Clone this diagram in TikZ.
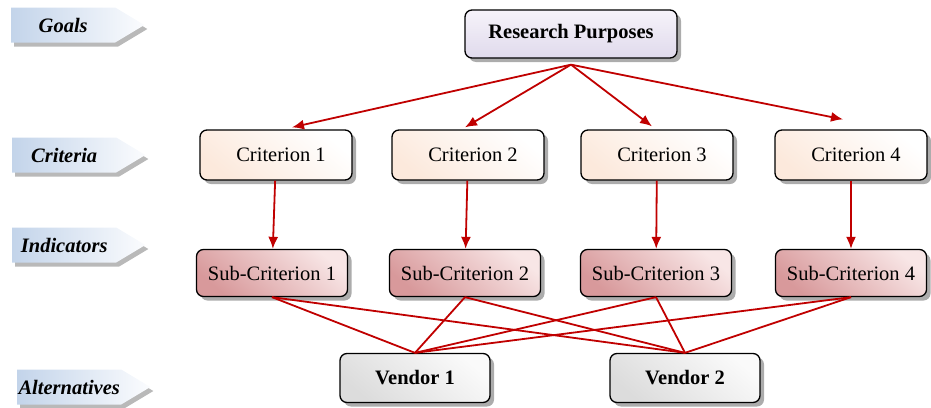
\documentclass[tikz,border=0pt]{standalone}
\usepackage{fontspec}
\setmainfont{Liberation Serif}
\usetikzlibrary{positioning}
\usetikzlibrary{shapes.symbols}
\usetikzlibrary{shadows}
\usetikzlibrary{arrows.meta}
\usetikzlibrary{calc}
\definecolor{link-red}{HTML}{C00000}
\definecolor{goal-lo}{HTML}{E0DAEC}
\definecolor{goal-hi}{HTML}{F6F3FA}
\definecolor{crit-lo}{HTML}{FCE9DC}
\definecolor{crit-hi}{HTML}{FFFFFF}
\definecolor{sub-lo}{HTML}{D8999B}
\definecolor{sub-hi}{HTML}{F8E6E6}
\definecolor{vend-lo}{HTML}{DCDCDC}
\definecolor{vend-hi}{HTML}{FAFAFA}
\definecolor{level-lo}{HTML}{C3D4EA}
\definecolor{level-hi}{HTML}{FBFCFE}
\tikzset{
  box/.style={draw=black,line width=1.3pt,rounded corners=7pt,font=\fontsize{20.5}{24}\selectfont,
    drop shadow={shadow xshift=4pt,shadow yshift=-4pt,fill=black!65}},
  goalbox/.style={box,top color=goal-hi,bottom color=goal-lo,minimum width=212pt,minimum height=48pt,font=\fontsize{20.5}{24}\selectfont\bfseries},
  critbox/.style={box,top color=crit-hi,bottom color=crit-lo,shading angle=-40,minimum width=152pt,minimum height=50pt},
  subbox/.style={box,top color=sub-hi,bottom color=sub-lo,shading angle=-40,minimum width=151pt,minimum height=47pt},
  vendbox/.style={box,top color=vend-hi,bottom color=vend-lo,shading angle=-40,minimum width=150pt,minimum height=49pt,font=\fontsize{20.5}{24}\selectfont\bfseries},
  level/.style={signal,signal to=east,signal pointer angle=62,anchor=west,draw=none,
    left color=level-lo,right color=level-hi,minimum height=35pt,text width=104pt,align=center,inner sep=0pt,
    font=\fontsize{20.5}{24}\selectfont\bfseries\itshape,
    drop shadow={shadow xshift=3pt,shadow yshift=-4pt,fill=black!55}},
  link/.style={draw=link-red,line width=1.8pt},
  linkarrow/.style={link,-{Latex[length=12pt,width=10pt]}},
}
\begin{document}
\begin{tikzpicture}[x=1pt,y=-1pt]
\useasboundingbox (0,0) rectangle (931,407);
% levels on the left
\node[level] (goals) at (11,25) {Goals};
\node[level] (criteria) at (12,155) {Criteria};
\node[level] (indicators) at (12,245) {Indicators};
\node[level] (alternatives) at (17,387) {Alternatives};
% goal
\node[goalbox] (purposes) at (571,34) {Research Purposes};
\coordinate (fork) at ([yshift=-6pt]purposes.south);
% criteria and sub-criteria
\foreach \i/\cx/\sx in {1/276/272,2/468/465,3/657/656,4/851/851} {
  \node[critbox] (crit\i) at (\cx,155) {\hspace{10pt}Criterion \i};
  \node[subbox] (sub\i) at (\sx,273) {Sub-Criterion \i};
  \draw[linkarrow] (crit\i) -- (sub\i);
}
\draw[linkarrow] (fork) -- ([xshift=16pt,yshift=2pt]crit1.north);
\draw[linkarrow] (fork) -- ([xshift=-3pt,yshift=2pt]crit2.north);
\draw[linkarrow] (fork) -- ([xshift=-5pt,yshift=3pt]crit3.north);
\draw[linkarrow] (fork) -- ([xshift=-8pt,yshift=10pt]crit4.north);
% alternatives
\node[vendbox] (vend1) at (415,378) {Vendor 1};
\node[vendbox] (vend2) at (685,378) {Vendor 2};
\foreach \i in {1,...,4} {
  \draw[link] (sub\i.south) -- (vend1.north);
  \draw[link] (sub\i.south) -- (vend2.north);
}
\end{tikzpicture}
\end{document}
